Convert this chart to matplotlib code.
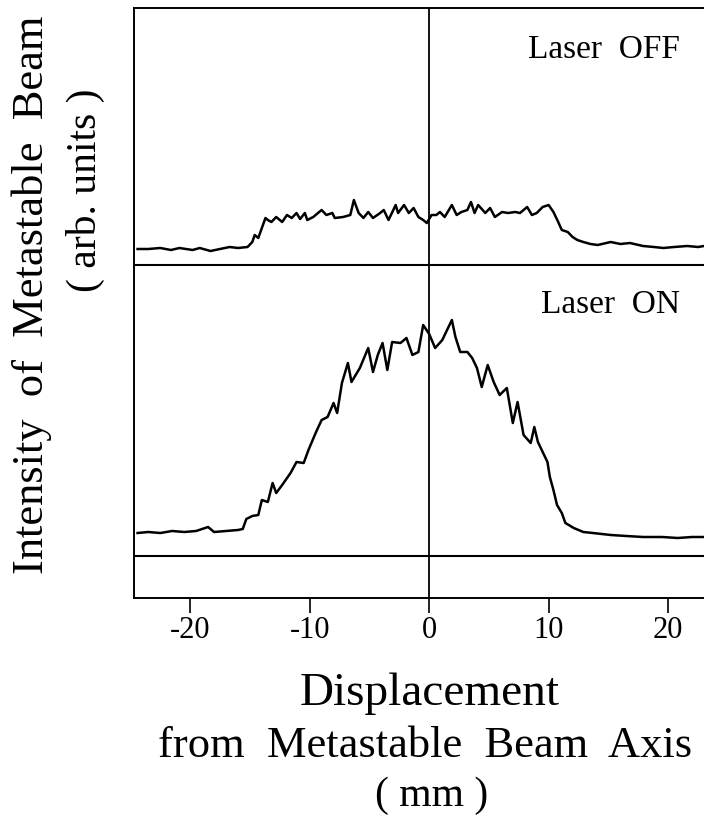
import matplotlib
matplotlib.use("Agg")
import matplotlib.pyplot as plt

# --- DATA (arbitrary units) ---
# Laser OFF trace: displacement (mm) and intensity above its own zero line
off_x = [-24.4, -23.5, -22.5, -21.6, -20.9, -19.8, -19.2, -18.3, -17.5, -16.7,
         -16.0, -15.2, -14.8, -14.6, -14.3, -14.0, -13.7, -13.5, -13.2, -12.8,
         -12.3, -11.9, -11.5, -11.1, -10.8, -10.4, -10.2, -9.7, -9.0, -8.6,
         -8.1, -7.9, -7.2, -6.6, -6.3, -5.9, -5.5, -5.1, -4.7, -4.1,
         -3.8, -3.4, -2.8, -2.6, -2.1, -1.7, -1.3, -0.9, -0.5, -0.2,
         0.2, 0.6, 0.9, 1.3, 1.9, 2.3, 2.7, 3.2, 3.5, 3.8,
         4.1, 4.7, 5.1, 5.5, 6.1, 6.6, 7.2, 7.6, 8.2, 8.6,
         9.0, 9.5, 10.0, 10.4, 10.8, 11.1, 11.6, 12.0, 12.4, 12.9,
         13.5, 14.1, 15.2, 16.0, 16.8, 17.9, 18.8, 19.6, 20.5, 21.6,
         22.5, 23.0]
off_y = [16, 16, 17, 15, 17, 15, 17, 14, 16, 18,
         17, 18, 23, 30, 27, 37, 47, 45, 43, 48,
         43, 50, 47, 52, 46, 52, 45, 48, 55, 50,
         52, 47, 48, 50, 65, 52, 47, 53, 47, 52,
         55, 45, 60, 52, 60, 52, 57, 48, 45, 42,
         50, 50, 53, 48, 60, 50, 53, 55, 63, 52,
         60, 52, 57, 48, 53, 52, 53, 52, 58, 50,
         52, 58, 60, 53, 43, 35, 33, 28, 25, 23,
         21, 20, 23, 21, 22, 19, 18, 17, 18, 19,
         18, 19]

# Laser ON trace
on_x = [-24.4, -23.5, -22.5, -21.5, -20.5, -19.5, -18.5, -18.0, -17.0, -16.0,
        -15.6, -15.3, -14.8, -14.3, -14.0, -13.5, -13.1, -12.8, -12.3, -11.6,
        -11.1, -10.5, -10.1, -9.5, -9.0, -8.5, -8.0, -7.7, -7.3, -6.8,
        -6.5, -5.8, -5.1, -4.7, -4.3, -3.9, -3.5, -3.1, -2.4, -1.9,
        -1.4, -0.9, -0.5, 0.0, 0.5, 1.1, 1.5, 1.9, 2.2, 2.6,
        3.2, 3.6, 4.0, 4.4, 4.9, 5.4, 5.9, 6.5, 7.0, 7.4,
        7.9, 8.5, 8.8, 9.1, 9.5, 9.9, 10.1, 10.4, 10.7, 11.1,
        11.4, 12.1, 12.9, 13.7, 15.2, 16.5, 17.9, 19.5, 20.8, 22.0,
        23.0]
on_y = [23, 24, 23, 25, 24, 25, 29, 24, 25, 26,
        27, 37, 40, 41, 56, 54, 73, 63, 71, 83,
        94, 93, 106, 123, 136, 139, 153, 143, 173, 193,
        174, 188, 208, 184, 201, 213, 186, 214, 213, 218,
        201, 204, 231, 222, 208, 216, 226, 236, 219, 204,
        204, 198, 188, 169, 191, 174, 161, 168, 133, 154,
        121, 113, 129, 114, 104, 94, 79, 66, 51, 43,
        33, 28, 24, 23, 21, 20, 19, 19, 18, 19,
        19]

traces = {"Laser  OFF": (off_x, off_y, 333), "Laser  ON": (on_x, on_y, 42)}

xticks = [-20, -10, 0, 10, 20]

plt.rcParams["font.family"] = ["Liberation Serif", "DejaVu Serif"]

fig = plt.figure(figsize=(7.04, 8.17), dpi=100)
ax = fig.add_axes([134 / 704, 1 - 598 / 817, 570 / 704, 590 / 817])

for name, (xs, ys, base) in traces.items():
    ax.plot(xs, [base + v for v in ys], color="black", lw=1.8)
    ax.axhline(base, color="black", lw=1.5)

ax.axvline(0, color="black", lw=1.3)

ax.set_xlim(-24.7, 23.0)
ax.set_ylim(0, 590)
ax.set_xticks(xticks)
ax.set_xticklabels([str(t) for t in xticks], fontsize=22)
ax.set_yticks([])
ax.tick_params(axis="x", direction="out", length=11, width=1.2, pad=2)
ax.spines["right"].set_visible(False)
for s in ["left", "top", "bottom"]:
    ax.spines[s].set_linewidth(1.4)

# panel labels
fig.text(680 / 704, 1 - 58 / 817, "Laser  OFF", ha="right", va="baseline", fontsize=24)
fig.text(680 / 704, 1 - 313 / 817, "Laser  ON", ha="right", va="baseline", fontsize=24)

# axis labels
fig.text(430 / 704, 1 - 705 / 817, "Displacement", ha="center", va="baseline", fontsize=34)
fig.text(425 / 704, 1 - 757 / 817, "from  Metastable  Beam  Axis", ha="center", va="baseline", fontsize=32)
fig.text(432 / 704, 1 - 806 / 817, "( mm )", ha="center", va="baseline", fontsize=30)

fig.text(32 / 704, 1 - 295 / 817, "Intensity  of  Metastable  Beam", rotation=90,
         ha="center", va="center", fontsize=32)
fig.text(85 / 704, 1 - 190 / 817, "( arb. units )", rotation=90,
         ha="center", va="center", fontsize=30)

fig.savefig("out.png", dpi=100)
